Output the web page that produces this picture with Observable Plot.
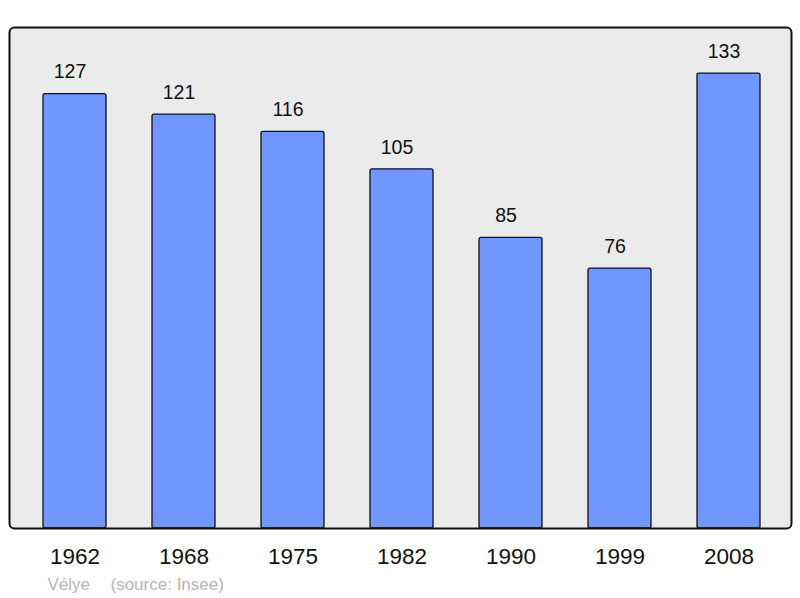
<!DOCTYPE html>
<html><head><meta charset="utf-8">
<script src="https://cdn.jsdelivr.net/npm/d3@7"></script>
<script src="https://cdn.jsdelivr.net/npm/@observablehq/plot@0.6"></script>
<style>body{margin:0;background:#fff;font-family:"Liberation Sans",Arial,sans-serif}</style>
</head><body>
<div id="chart"></div>
<script>
const years = ["1962","1968","1975","1982","1990","1999","2008"];
const population = [127,121,116,105,85,76,133];
const commune = "Vélye";
const source = "(source: Insee)";

const data = years.map((y,i)=>({year:y, pop:population[i]}));

const chart = Plot.plot({
  width:800, height:598,
  marginTop:27, marginBottom:70, marginLeft:9, marginRight:9,
  style:{fontFamily:"'Liberation Sans', Arial, sans-serif", background:"#fff"},
  x:{domain:years, range:[10,793], paddingInner:0.425, paddingOuter:0.29, label:null},
  y:{domain:[0,146.5], axis:null},
  marks:[
    Plot.frame({fill:"#ebebeb", stroke:"none", rx:5}),
    Plot.barY(data,{x:"year", y:"pop", fill:"#7097ff", stroke:"#111", strokeWidth:1.3, rx:2}),
    Plot.text(data,{x:"year", y:"pop", text:d=>String(d.pop), dx:-5, dy:-22, fontSize:19.5, fill:"#111"}),
    Plot.frame({stroke:"#111", strokeWidth:2, rx:5}),
    Plot.axisX({tickSize:0, tickPadding:20, fontSize:22.5, label:null, fill:"#111"}),
    Plot.text([commune],{frameAnchor:"bottom-left", dx:38, dy:61, fontSize:17, fill:"#b5b5b5", textAnchor:"start"}),
    Plot.text([source],{frameAnchor:"bottom-left", dx:101, dy:61, fontSize:17, fill:"#b5b5b5", textAnchor:"start"})
  ]
});
document.getElementById("chart").append(chart);
</script>
</body></html>
